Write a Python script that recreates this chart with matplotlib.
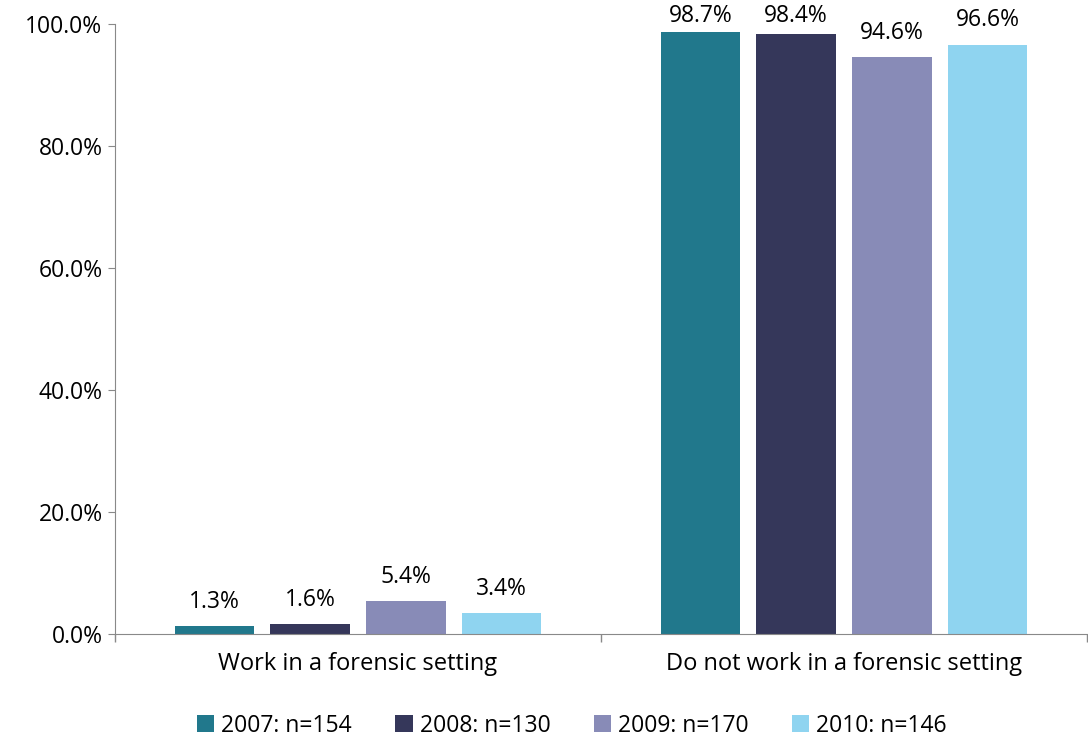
import numpy as np
import matplotlib.pyplot as plt
from matplotlib.ticker import FuncFormatter

plt.rcParams['font.family'] = ['Open Sans', 'DejaVu Sans']

categories = ['Work in a forensic setting', 'Do not work in a forensic setting']
series = ['2007: n=154', '2008: n=130', '2009: n=170', '2010: n=146']
values = [
    [1.3, 98.7],
    [1.6, 98.4],
    [5.4, 94.6],
    [3.4, 96.6],
]
colors = ['#21788C', '#35375A', '#888BB7', '#8FD4F0']

fig = plt.figure(figsize=(10.88, 7.42), dpi=100)
ax = fig.add_axes([115 / 1088, 108 / 742, 972 / 1088, 610 / 742])

x = np.arange(len(categories))
pitch = 0.197
width = 0.164
for i, (name, vals) in enumerate(zip(series, values)):
    pos = x + (i - 1.5) * pitch
    bars = ax.bar(pos, vals, width, color=colors[i], label=name)
    for b, v in zip(bars, vals):
        # labels near the top get pushed down so they stay inside the frame
        ax.text(b.get_x() + b.get_width() / 2, min(v + 3.0, 100.3), f'{v:.1f}%',
                ha='center', va='baseline', fontsize=16.5, clip_on=False)

ax.set_xlim(-0.5, 1.5)
ax.set_ylim(0, 100)
ax.set_yticks(np.arange(0, 101, 20))
ax.yaxis.set_major_formatter(FuncFormatter(lambda v, p: f'{v:.1f}%'))
ax.set_xticks(x)
ax.set_xticklabels(categories)
ax.set_xticks([-0.5, 0.5, 1.5], minor=True)
ax.tick_params(axis='x', which='major', length=0, labelsize=17, pad=13)
ax.tick_params(axis='x', which='minor', length=6, color='#898989', width=1)
ax.tick_params(axis='y', length=5, color='#898989', labelsize=16.5, pad=4)

for s in ['top', 'right']:
    ax.spines[s].set_visible(False)
for s in ['left', 'bottom']:
    ax.spines[s].set_color('#898989')

ax.legend(loc='center', bbox_to_anchor=(457 / 972, -0.15), ncol=4, frameon=False,
          fontsize=16.5, handlelength=0.75, handleheight=0.75, handletextpad=0.3,
          columnspacing=1.9)

fig.savefig('out.png', dpi=100)
